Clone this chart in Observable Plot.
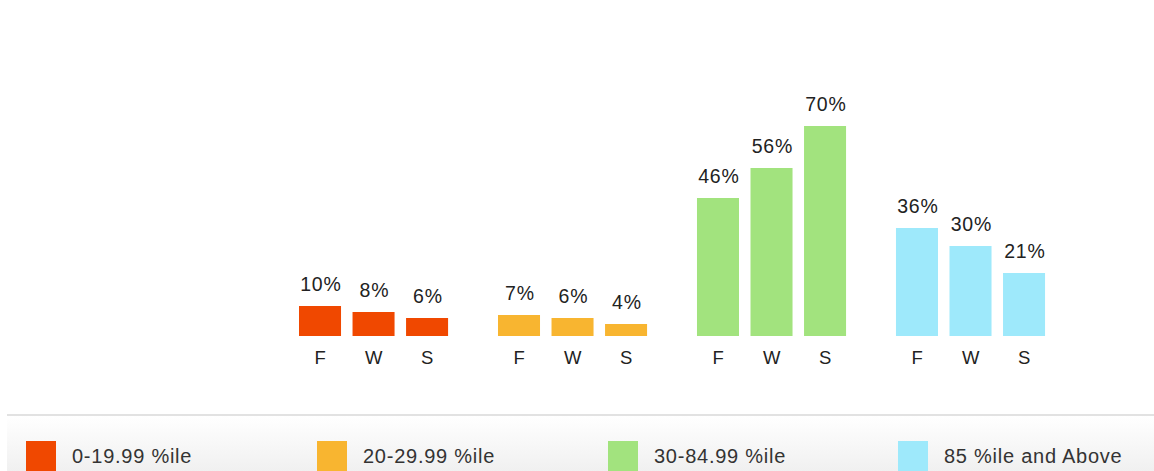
<!DOCTYPE html>
<html>
<head>
<meta charset="utf-8">
<script src="https://cdn.jsdelivr.net/npm/d3@7"></script>
<script src="https://cdn.jsdelivr.net/npm/@observablehq/plot@0.6"></script>
<style>
  html, body { margin: 0; padding: 0; background: #fff; }
  body { width: 1154px; height: 471px; overflow: hidden; font-family: "Liberation Sans", Arial, Helvetica, sans-serif; }
  #chart svg { display: block; }
  #chart svg text { letter-spacing: 0.8px; }
  .legend {
    margin-left: 7px;
    margin-top: 14px;
    border-top: 2px solid #e2e2e2;
    height: 70px;
    background: linear-gradient(#ffffff, #ececec);
    position: relative;
  }
  .item { position: absolute; top: 25px; display: flex; align-items: center; font-size: 20px; letter-spacing: 0.75px; color: #333; }
  .sw { width: 30px; height: 30px; margin-right: 16px; }
</style>
</head>
<body>
<div id="chart"></div>
<div class="legend" id="legend"></div>
<script>
const categories = ["0-19.99 %ile", "20-29.99 %ile", "30-84.99 %ile", "85 %ile and Above"];
const terms = ["F", "W", "S"];
const colors = ["#f04800", "#f8b530", "#a2e37e", "#9ee9fb"];
const band0 = [10, 8, 6];
const band20 = [7, 6, 4];
const band30 = [46, 56, 70];
const band85 = [36, 30, 21];
const seriesValues = [band0, band20, band30, band85];

const data = [];
categories.forEach((c, i) => terms.forEach((t, j) => data.push({cat: c, term: t, value: seriesValues[i][j]})));

const chart = Plot.plot({
  width: 1154,
  height: 400,
  marginTop: 36,
  marginBottom: 64,
  marginLeft: 293.25,
  marginRight: 103.2,
  style: {fontFamily: "'Liberation Sans', Arial, Helvetica, sans-serif", fontSize: "18px", color: "#222"},
  fx: {domain: categories, axis: null, paddingInner: 0.193, paddingOuter: 0, round: false, label: null},
  x: {domain: terms, paddingInner: 0.215, paddingOuter: 0.1075, round: false, label: null},
  y: {domain: [0, 100], axis: null},
  color: {domain: categories, range: colors},
  marks: [
    Plot.barY(data, {fx: "cat", x: "term", y: "value", fill: "cat"}),
    Plot.text(data, {fx: "cat", x: "term", y: "value", text: d => d.value + "%", dy: -22, dx: 0.4, fontSize: 19.5, fill: "#222"}),
    Plot.axisX({tickSize: 0, tickPadding: 14, fontSize: 18.5, fill: "#222"})
  ]
});
document.getElementById("chart").appendChild(chart);

const legend = document.getElementById("legend");
const lefts = [19, 310, 601, 891];
categories.forEach((c, i) => {
  const it = document.createElement("div");
  it.className = "item";
  it.style.left = lefts[i] + "px";
  const sw = document.createElement("div");
  sw.className = "sw";
  sw.style.background = colors[i];
  const lb = document.createElement("span");
  lb.textContent = c;
  it.appendChild(sw);
  it.appendChild(lb);
  legend.appendChild(it);
});
</script>
</body>
</html>
